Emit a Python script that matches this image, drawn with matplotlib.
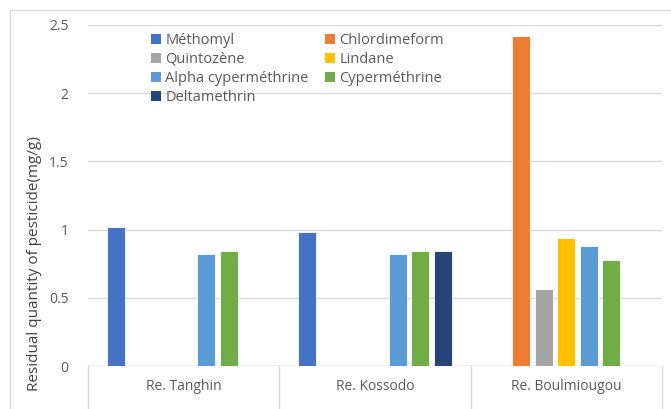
import matplotlib.pyplot as plt
import numpy as np
from matplotlib.patches import Patch
from matplotlib.lines import Line2D

plt.rcParams['font.family'] = ['Open Sans', 'DejaVu Sans']

sites = ['Re. Tanghin', 'Re. Kossodo', 'Re. Boulmiougou']
pesticides = ['Méthomyl', 'Chlordimeform', 'Quintozène', 'Lindane',
              'Alpha cyperméthrine', 'Cyperméthrine', 'Deltamethrin']
colors = ['#4472C4', '#ED7D31', '#A5A5A5', '#FFC000',
          '#5B9BD5', '#70AD47', '#264478']

# residues per pesticide, one value per site (nan = not detected)
methomyl = [1.02, 0.98, np.nan]
chlordimeform = [np.nan, np.nan, 2.42]
quintozene = [np.nan, np.nan, 0.565]
lindane = [np.nan, np.nan, 0.94]
alpha_cyper = [0.82, 0.82, 0.88]
cyper = [0.84, 0.84, 0.78]
deltamethrin = [np.nan, 0.845, np.nan]
series = [methomyl, chlordimeform, quintozene, lindane, alpha_cyper, cyper, deltamethrin]

W, H = 671, 409
fig = plt.figure(figsize=(W / 100, H / 100), dpi=100)
ax = fig.add_axes([88 / W, (H - 366) / H, (662 - 88) / W, (366 - 25) / H])

x = np.arange(len(sites))
step = 0.118
bw = 0.094
for i, (vals, c) in enumerate(zip(series, colors)):
    off = (i - 3) * step
    ax.bar(x + off, vals, width=bw, color=c, edgecolor='white', linewidth=0.6, zorder=3)

ax.set_xlim(-0.5, 2.5)
ax.set_ylim(0, 2.5)
ax.set_yticks([0, 0.5, 1, 1.5, 2, 2.5])
ax.set_yticklabels(['0', '0.5', '1', '1.5', '2', '2.5'])
ax.tick_params(axis='y', length=0, pad=14, labelsize=10, labelcolor='#595959')
ax.set_xticks([])
ax.grid(axis='y', color='#D9D9D9', linewidth=1, zorder=0)
for s in ax.spines.values():
    s.set_visible(False)
ax.axhline(0, color='#D9D9D9', linewidth=1, zorder=2)

# category boxes below axis
drop = (409 - 366) / (366 - 25) + 0.02
for xs in [-0.5, 0.5, 1.5, 2.5]:
    ax.plot([xs, xs], [0, -drop], transform=ax.get_xaxis_transform(),
            color='#D9D9D9', linewidth=1, clip_on=False)
for xi, s in zip(x, sites):
    ax.text(xi, -(386 - 366) / (366 - 25), s, transform=ax.get_xaxis_transform(),
            ha='center', va='center', fontsize=10, color='#595959')

fig.text(35 / W, 1 - 264 / H, 'Residual quantity of pesticide(mg/g)', rotation=90,
         ha='center', va='center', fontsize=11, color='#404040')

# chart area border (left and top visible)
fig.add_artist(Line2D([10 / W, 10 / W], [0, 1 - 10 / H], color='#D9D9D9', linewidth=1))
fig.add_artist(Line2D([10 / W, 1], [1 - 10 / H, 1 - 10 / H], color='#D9D9D9', linewidth=1))

# legend fills row by row in the reference, matplotlib fills columns
handles = [Patch(facecolor=c, edgecolor='none', label=p) for c, p in zip(colors, pesticides)]
order = [0, 2, 4, 6, 1, 3, 5]
fig.legend(handles=[handles[k] for k in order], ncol=2, loc='upper left',
           bbox_to_anchor=(145 / W, 1 - 27 / H), frameon=False,
           fontsize=10.5, labelcolor='#595959', handlelength=0.7, handleheight=0.7,
           handletextpad=0.3, columnspacing=1.1, labelspacing=0.28, borderaxespad=0)

fig.savefig('out.png', dpi=100)
